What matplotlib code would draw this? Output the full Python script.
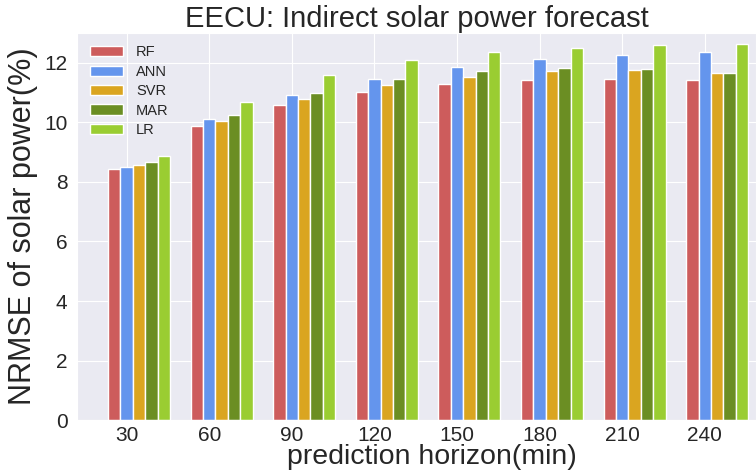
import matplotlib
matplotlib.use("Agg")
import matplotlib.pyplot as plt
import numpy as np
import seaborn as sns

sns.set_style("darkgrid")
plt.rcParams['font.family'] = ['Liberation Sans', 'DejaVu Sans']

# prediction horizons (min)
horizons = [30, 60, 90, 120, 150, 180, 210, 240]

# NRMSE (%) per model
rf = [8.44, 9.87, 10.58, 11.01, 11.28, 11.41, 11.45, 11.41]
ann = [8.51, 10.10, 10.92, 11.47, 11.85, 12.11, 12.26, 12.37]
svr = [8.55, 10.04, 10.77, 11.25, 11.53, 11.73, 11.76, 11.66]
mar = [8.67, 10.23, 10.99, 11.46, 11.71, 11.82, 11.80, 11.66]
lr = [8.86, 10.67, 11.60, 12.10, 12.35, 12.50, 12.58, 12.62]

models = ['RF', 'ANN', 'SVR', 'MAR', 'LR']
series = [rf, ann, svr, mar, lr]
colors = ['indianred', 'cornflowerblue', 'goldenrod', 'olivedrab', 'yellowgreen']

fig = plt.figure(figsize=(7.56, 4.71), dpi=100)
ax = fig.add_axes([0.102, 0.108, 0.898, 0.822])

x = np.arange(len(horizons))
w = 0.15
for i, (name, vals, c) in enumerate(zip(models, series, colors)):
    ax.bar(x + (i - 1) * w, vals, width=w, color=c, label=name)

ax.set_xticks(x)
ax.set_xticklabels([str(h) for h in horizons])
ax.set_xlim(-0.6, x[-1] + 0.62)
ax.set_ylim(0, 13)
ax.tick_params(labelsize=15)
ax.tick_params(axis='x', pad=0.5)
ax.set_xlabel('prediction horizon(min)', fontsize=20.5)
ax.xaxis.set_label_coords(0.522, -0.114, transform=ax.transAxes)
ax.xaxis.label.set_va('baseline')
ax.set_ylabel('NRMSE of solar power(%)', fontsize=22, labelpad=4)
ax.set_title('EECU: Indirect solar power forecast', fontsize=21, pad=4)
ax.legend(loc='upper left', fontsize=10.5, handlelength=2.3, handletextpad=0.9,
          labelspacing=0.37, frameon=False, borderaxespad=0.45)

fig.savefig('out.png', dpi=100)
